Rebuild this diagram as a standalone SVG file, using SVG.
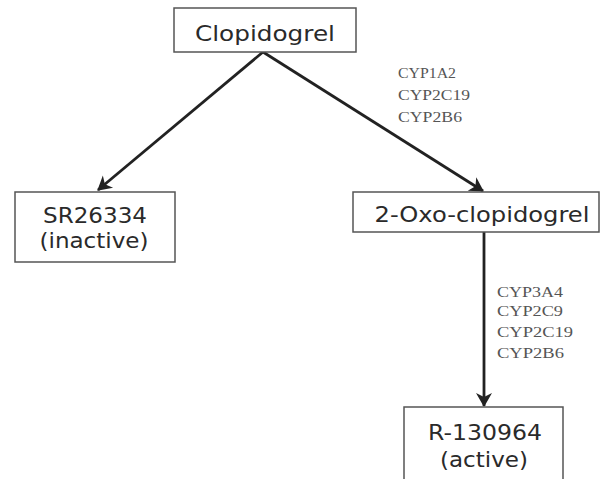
<svg xmlns="http://www.w3.org/2000/svg" width="601" height="479" viewBox="0 0 601 479">
<style>
.box{fill:#fff;stroke:#555;stroke-width:1.5}
.nt{font-family:"DejaVu Sans","Open Sans",sans-serif;font-size:21px;fill:#2a2a2a;text-anchor:middle}
.cyp{font-family:"Liberation Serif","Times New Roman",serif;font-size:15px;fill:#555}
.edge{stroke:#222;stroke-width:2.8;fill:none}
</style>
<defs>
<marker id="ah" viewBox="0 0 14 16" refX="13" refY="8" markerWidth="14" markerHeight="16" markerUnits="userSpaceOnUse" orient="auto" overflow="visible">
<path d="M0,0 L14,8 L0,16 L4,8 Z" fill="#222"/>
</marker>
</defs>
<rect width="601" height="479" fill="#fff"/>
<g id="edges">
<line class="edge" x1="263" y1="52" x2="98" y2="190" marker-end="url(#ah)"/>
<line class="edge" x1="263" y1="52" x2="483" y2="191" marker-end="url(#ah)"/>
<line class="edge" x1="484" y1="232" x2="484" y2="406" marker-end="url(#ah)"/>
<text class="cyp" x="398" y="78" textLength="58" lengthAdjust="spacingAndGlyphs">CYP1A2</text>
<text class="cyp" x="398" y="100" textLength="72" lengthAdjust="spacingAndGlyphs">CYP2C19</text>
<text class="cyp" x="398" y="122" textLength="64" lengthAdjust="spacingAndGlyphs">CYP2B6</text>
<text class="cyp" x="497" y="297" textLength="66" lengthAdjust="spacingAndGlyphs">CYP3A4</text>
<text class="cyp" x="497" y="316" textLength="66" lengthAdjust="spacingAndGlyphs">CYP2C9</text>
<text class="cyp" x="497" y="337" textLength="76" lengthAdjust="spacingAndGlyphs">CYP2C19</text>
<text class="cyp" x="497" y="358" textLength="67" lengthAdjust="spacingAndGlyphs">CYP2B6</text>
</g>
<g id="clopidogrel">
<rect class="box" x="174" y="8" width="182" height="44"/>
<text class="nt" x="265" y="41" textLength="140" lengthAdjust="spacingAndGlyphs">Clopidogrel</text>
</g>
<g id="sr26334">
<rect class="box" x="15" y="192" width="160" height="70"/>
<text class="nt" x="95" y="223" textLength="104" lengthAdjust="spacingAndGlyphs">SR26334</text>
<text class="nt" x="94" y="248" textLength="109" lengthAdjust="spacingAndGlyphs">(inactive)</text>
</g>
<g id="oxo">
<rect class="box" x="353" y="192" width="246" height="40"/>
<text class="nt" x="482" y="222" textLength="215" lengthAdjust="spacingAndGlyphs">2-Oxo-clopidogrel</text>
</g>
<g id="r130964">
<rect class="box" x="404" y="407" width="159" height="80"/>
<text class="nt" x="485" y="440" textLength="114" lengthAdjust="spacingAndGlyphs">R-130964</text>
<text class="nt" x="484" y="467" textLength="88" lengthAdjust="spacingAndGlyphs">(active)</text>
</g>
</svg>
